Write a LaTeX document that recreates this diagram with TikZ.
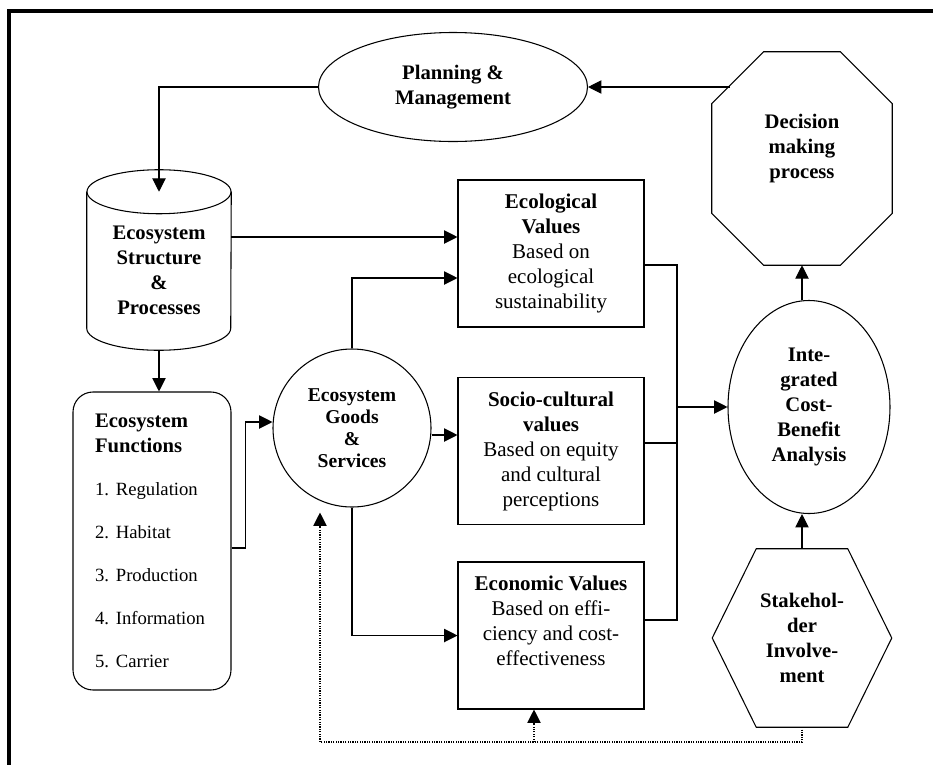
\documentclass[tikz,border=0pt]{standalone}
\usepackage{fontspec}
\setmainfont{Liberation Serif}
\usetikzlibrary{arrows.meta,shapes.geometric,calc}
\frenchspacing
\begin{document}
\begin{tikzpicture}[x=0.75pt,y=0.75pt]
% Styles
\tikzstyle{cadre}=[line width=0.8pt]
\tikzstyle{fleche}=[-{Triangle[length=10pt,width=10pt]},line width=0.8pt]
\tikzstyle{pointille}=[densely dotted,line width=0.6pt]
\tikzstyle{titre}=[font=\fontsize{15.5}{18.75}\selectfont\bfseries,align=center]
\tikzstyle{texte}=[font=\fontsize{15.75}{18.75}\selectfont,align=center]
\tikzstyle{boite}=[cadre,draw,rectangle,minimum width=186*\pix,minimum height=147*\pix,inner sep=0pt,texte]
\tikzstyle{invisible}=[rectangle,inner sep=0pt]
% Unité : un pixel de la figure
\def\pix{0.75pt}
\useasboundingbox (0,0) rectangle (933,-765);
% Encadrement
\draw[line width=3pt] (933,-11) -- (9,-11) -- (9,-765);
% Planification
\node[ellipse,draw,cadre,minimum width=269*\pix,minimum height=109*\pix,inner sep=0pt,titre] (plan) at (453,-87) {Planning \&\\Management};
% Structure et processus : cylindre
\node[invisible,minimum width=144*\pix,minimum height=136*\pix,label={[titre,yshift=-7.5pt]center:Ecosystem\\Structure\\\&\\Processes}] (struct) at (159,-260) {};
\draw[cadre] (struct.north) ellipse [x radius=72,y radius=22];
\draw[cadre] (struct.north west) -- (struct.south west) arc[start angle=180,end angle=360,x radius=72,y radius=22] -- (struct.north east);
% Fonctions
\node[cadre,draw,rounded corners=15pt,minimum width=158*\pix,minimum height=298*\pix,text width=114*\pix,align=left,font=\fontsize{15.5}{18.75}\selectfont] (fonct) at (152,-541)
  {\textbf{Ecosystem}\\\textbf{Functions}\\[14pt]
   {\fontsize{14}{16.8}\selectfont 1. Regulation}\\[13.5pt]
   {\fontsize{14}{16.8}\selectfont 2. Habitat}\\[13.5pt]
   {\fontsize{14}{16.8}\selectfont 3. Production}\\[13.5pt]
   {\fontsize{14}{16.8}\selectfont 4. Information}\\[13.5pt]
   {\fontsize{14}{16.8}\selectfont 5. Carrier}};
% Biens et services
\node[circle,draw,cadre,minimum size=158*\pix,inner sep=0pt,align=center,font=\fontsize{14.7}{16.5}\selectfont\bfseries] (biens) at (352,-428) {Ecosystem\\Goods\\\&\\Services};
% Valeurs
\node[boite] (eco) at (551,-253.5) {\textbf{Ecological}\\\textbf{Values}\\Based on\\ecological\\sustainability};
\node[boite] (socio) at (551,-451) {\textbf{Socio-cultural}\\\textbf{values}\\Based on equity\\and cultural\\perceptions};
\node[boite,label={[texte,yshift=10.9pt]center:\textbf{Economic Values}\\Based on effi-\\ciency and cost-\\effectiveness}] (econ) at (551,-635.5) {};
% Analyse coût-bénéfice
\node[ellipse,draw,cadre,minimum width=162*\pix,minimum height=213*\pix,inner sep=0pt,titre] (icba) at (809,-407) {Inte-\\grated\\Cost-\\Benefit\\Analysis};
% Décision : octogone
\node[invisible,minimum width=180*\pix,minimum height=213*\pix,label={[titre,yshift=7.5pt]center:Decision\\making\\process}] (dec) at (802,-158.5) {};
\draw[cadre] ($(dec.north west)+(52,0)$) -- ($(dec.north east)+(-52,0)$) -- ($(dec.north east)+(0,-52)$) -- ($(dec.south east)+(0,52)$) -- ($(dec.south east)+(-52,0)$) -- ($(dec.south west)+(52,0)$) -- ($(dec.south west)+(0,52)$) -- ($(dec.north west)+(0,-52)$) -- cycle;
% Acteurs : hexagone
\node[invisible,minimum width=179*\pix,minimum height=178*\pix,titre] (stake) at (802,-638) {Stakehol-\\der\\Involve-\\ment};
\draw[cadre] ($(stake.north west)+(44,0)$) -- ($(stake.north east)+(-44,0)$) -- (stake.east) -- ($(stake.south east)+(-44,0)$) -- ($(stake.south west)+(44,0)$) -- (stake.west) -- cycle;
% Points de passage
\coordinate (decg) at (729.5,-87);
\coordinate (collecteur) at (677,-407);
\coordinate (retour) at (534,-742);
% Flèches
\draw[fleche] (decg) -- (plan.east);
\draw[fleche] (plan.west) -| (struct.north);
\draw[fleche] ([yshift=23*\pix]struct.east) -- ([yshift=16.5*\pix]eco.west);
\draw[fleche] ([yshift=-22*\pix]struct.south) -- (struct.south |- fonct.north);
\draw[fleche] ([yshift=-7*\pix]fonct.east) -- ++(14,0) |- ([yshift=6*\pix]biens.west);
\draw[fleche] (biens.north) |- ([yshift=-24.5*\pix]eco.west);
\draw[fleche] ([yshift=-7*\pix]biens.east) -- ([yshift=16*\pix]socio.west);
\draw[fleche] (biens.south) |- (econ.west);
\draw[cadre] ([yshift=-11.5*\pix]eco.east) -| (collecteur);
\draw[cadre] ([yshift=8*\pix]socio.east) -| (collecteur);
\draw[cadre] ([yshift=15.5*\pix]econ.east) -| (collecteur);
\draw[fleche] (collecteur) -- (icba.west);
\draw[fleche] (icba.north -| dec.south) -- (dec.south);
\draw[fleche] (stake.north) -- (stake.north |- icba.south);
% Retour en pointillés
\draw[pointille,fleche] (stake.south) |- (retour) -| ([xshift=-32*\pix,yshift=-5*\pix]biens.south);
\draw[pointille,fleche] (retour) -- (retour |- econ.south);
\end{tikzpicture}
\end{document}
